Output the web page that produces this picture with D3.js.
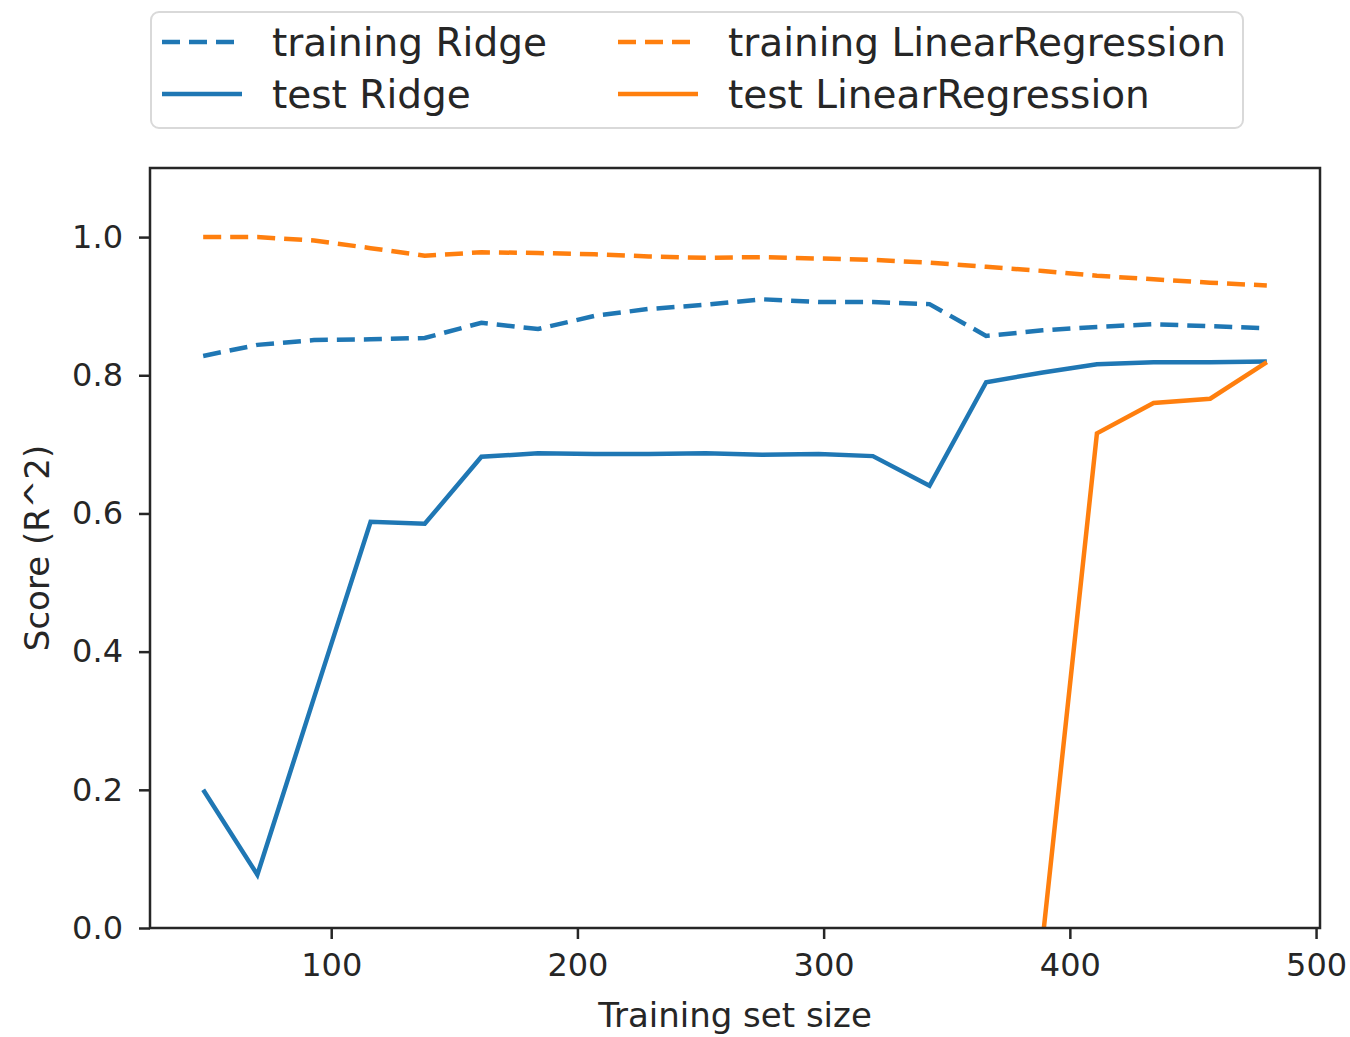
<!DOCTYPE html>
<html>
<head>
<meta charset="utf-8">
<script src="https://cdn.jsdelivr.net/npm/d3@7"></script>
<style>
  body { margin: 0; background: #fff; }
  svg { font-family: "DejaVu Sans", sans-serif; }
</style>
</head>
<body>
<div id="wrapper"></div>
<script>
// training set sizes (x values)
const trainSizes = [48, 70, 93, 116, 138, 161, 184, 207, 229, 252, 275, 298, 320, 343, 366, 389, 411, 434, 457, 480];

// scores
const trainRidge = [0.828, 0.844, 0.851, 0.852, 0.854, 0.876, 0.867, 0.886, 0.896, 0.902, 0.910, 0.906, 0.906, 0.903, 0.857, 0.865, 0.870, 0.874, 0.871, 0.868];
const testRidge  = [0.200, 0.077, 0.333, 0.588, 0.585, 0.682, 0.687, 0.686, 0.686, 0.687, 0.685, 0.686, 0.683, 0.640, 0.790, 0.804, 0.816, 0.819, 0.819, 0.820];
const trainLR    = [1.000, 1.000, 0.995, 0.984, 0.973, 0.978, 0.977, 0.975, 0.972, 0.970, 0.971, 0.969, 0.967, 0.963, 0.957, 0.951, 0.944, 0.939, 0.934, 0.930];
// earlier LinearRegression test scores fall far below the axis
const testLR     = [null, null, null, null, null, null, null, null, null, null, null, null, null, null, null, -0.015, 0.716, 0.760, 0.766, 0.819];

const xTicks = [100, 200, 300, 400, 500];
const yTicks = [0.0, 0.2, 0.4, 0.6, 0.8, 1.0];
const legendLabels = ["training Ridge", "test Ridge", "training LinearRegression", "test LinearRegression"];

const blue = "#1f77b4", orange = "#ff7f0e";
const series = [
    {label: legendLabels[0], values: trainRidge, color: blue, dashed: true},
    {label: legendLabels[1], values: testRidge, color: blue, dashed: false},
    {label: legendLabels[2], values: trainLR, color: orange, dashed: true},
    {label: legendLabels[3], values: testLR, color: orange, dashed: false}
];

//Dimension of svg
const dimension = {
    width: 1350,
    height: 1037,
    margin: {top: 168, left: 150, bottom: 109, right: 30}
};
dimension.boundedWidth = dimension.width - dimension.margin.left - dimension.margin.right;
dimension.boundedHeight = dimension.height - dimension.margin.top - dimension.margin.bottom;

const svg = d3.select("#wrapper").append("svg")
    .attr("width", dimension.width)
    .attr("height", dimension.height);

const bounded = svg.append("g")
    .attr("transform", `translate(${dimension.margin.left},${dimension.margin.top})`);

// matplotlib style 5% margins on x
const xScaler = d3.scaleLinear()
    .domain([26.4, 501.6])
    .range([0, dimension.boundedWidth]);
const yScaler = d3.scaleLinear()
    .domain([0, 1.1])
    .range([dimension.boundedHeight, 0]);

bounded.append("clipPath").attr("id", "clip")
    .append("rect")
    .attr("width", dimension.boundedWidth)
    .attr("height", dimension.boundedHeight);

//lines
const lineGenerator = d3.line()
    .defined(d => d[1] !== null)
    .x(d => xScaler(d[0]))
    .y(d => yScaler(d[1]));

bounded.append("g").attr("clip-path", "url(#clip)")
    .selectAll("path")
    .data(series)
    .join("path")
    .attr("d", s => lineGenerator(trainSizes.map((x, i) => [x, s.values[i]])))
    .attr("fill", "none")
    .attr("stroke", s => s.color)
    .attr("stroke-width", 4.5)
    .attr("stroke-dasharray", s => s.dashed ? "18,9" : null);

//axes
const xAxis = bounded.append("g")
    .attr("transform", `translate(0,${dimension.boundedHeight})`)
    .call(d3.axisBottom(xScaler).tickValues(xTicks).tickSize(11).tickPadding(14).tickSizeOuter(0));
const yAxis = bounded.append("g")
    .call(d3.axisLeft(yScaler).tickValues(yTicks).tickFormat(d3.format(".1f")).tickSize(11).tickPadding(16).tickSizeOuter(0));

[xAxis, yAxis].forEach(ax => {
    ax.selectAll("text").attr("font-size", 32).attr("fill", "#262626").attr("font-family", "DejaVu Sans");
    ax.selectAll("line").attr("stroke", "#262626").attr("stroke-width", 2.5);
    ax.select(".domain").remove();
});

// frame
bounded.append("rect")
    .attr("width", dimension.boundedWidth)
    .attr("height", dimension.boundedHeight)
    .attr("fill", "none")
    .attr("stroke", "#262626")
    .attr("stroke-width", 2.5);

//axis labels
svg.append("text")
    .attr("x", dimension.margin.left + dimension.boundedWidth / 2)
    .attr("y", 1027)
    .attr("text-anchor", "middle")
    .attr("font-size", 34)
    .attr("fill", "#262626")
    .text("Training set size");

svg.append("text")
    .attr("transform", `translate(49,${dimension.margin.top + dimension.boundedHeight / 2}) rotate(-90)`)
    .attr("text-anchor", "middle")
    .attr("font-size", 34)
    .attr("fill", "#262626")
    .text("Score (R^2)");

//legend
const legend = svg.append("g");
legend.append("rect")
    .attr("x", 151).attr("y", 12)
    .attr("width", 1092).attr("height", 116)
    .attr("rx", 8)
    .attr("fill", "#fff")
    .attr("stroke", "#d9d9d9")
    .attr("stroke-width", 2);

const colX = [162, 618];
const rowY = [42, 94];
const items = legend.selectAll("g.item")
    .data(series)
    .join("g")
    .attr("class", "item")
    .attr("transform", (s, i) => `translate(${colX[Math.floor(i / 2)]},${rowY[i % 2]})`);

items.append("line")
    .attr("x1", 0).attr("x2", 80)
    .attr("stroke", s => s.color)
    .attr("stroke-width", 4.5)
    .attr("stroke-dasharray", s => s.dashed ? "18,9" : null);

items.append("text")
    .attr("x", 110)
    .attr("dy", "0.36em")
    .attr("font-size", 39)
    .attr("fill", "#262626")
    .text(s => s.label);
</script>
</body>
</html>
